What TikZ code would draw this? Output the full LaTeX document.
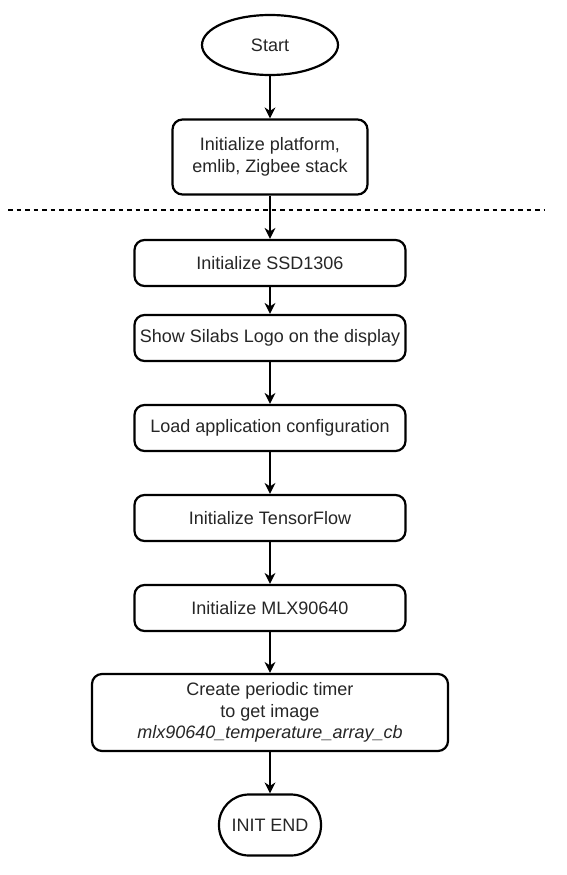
\documentclass[tikz,border=0pt]{standalone}
\usepackage{fontspec}
\setmainfont{Liberation Sans}
\usepackage{tikz}
\usetikzlibrary{positioning, arrows.meta, shapes.geometric}

\begin{document}
\begin{tikzpicture}[x=1pt, y=-1pt,
      box/.style={draw=black, fill=white, line width=2.2pt, rounded corners=10pt,
                  align=center, inner sep=0pt, minimum width=271pt, minimum height=46pt,
                  font=\fontsize{18}{21.5}\selectfont, text=black!85},
      term/.style={box, ellipse, rounded corners=0pt},
      arr/.style={-{Stealth[length=11pt, width=11pt, inset=3.5pt]}, line width=1.4pt, black}
    ]
    \useasboundingbox (0,0) rectangle (566,875);
    \node[term, minimum width=136pt, minimum height=60pt] (start) at (270,45) {Start};
    \node[box, minimum width=195pt, minimum height=75pt] (plat) at (270,157) {Initialize platform,\\emlib, Zigbee stack};
    \node[box] (ssd) at (270,263)   {Initialize SSD1306};
    \node[box] (logo) at (270,338)  {Show Silabs Logo on the display};
    \node[box] (conf) at (270,428)  {Load application configuration};
    \node[box] (tflow) at (270,518) {Initialize TensorFlow};
    \node[box] (mlx) at (270,608)   {Initialize MLX90640};
    \node[box, minimum width=356pt, minimum height=77pt] (timer) at (270,712.5) {Create periodic timer\\to get image\\\textit{mlx90640\_temperature\_array\_cb}};
    \node[box, minimum width=102pt, minimum height=61pt, rounded corners=30pt] (fin) at (270,825) {INIT END};
    \coordinate (sepL) at (8,210);
    \coordinate (sepR) at (545,210);
    \draw[line width=1.1pt, dash pattern=on 4.5pt off 4pt] (sepL) -- (sepR);
    \draw[arr] (start) -- (plat);
    \draw[arr] (plat) -- (ssd);
    \draw[arr] (ssd) -- (logo);
    \draw[arr] (logo) -- (conf);
    \draw[arr] (conf) -- (tflow);
    \draw[arr] (tflow) -- (mlx);
    \draw[arr] (mlx) -- (timer);
    \draw[arr] (timer) -- (fin);
  \end{tikzpicture}
\end{document}
